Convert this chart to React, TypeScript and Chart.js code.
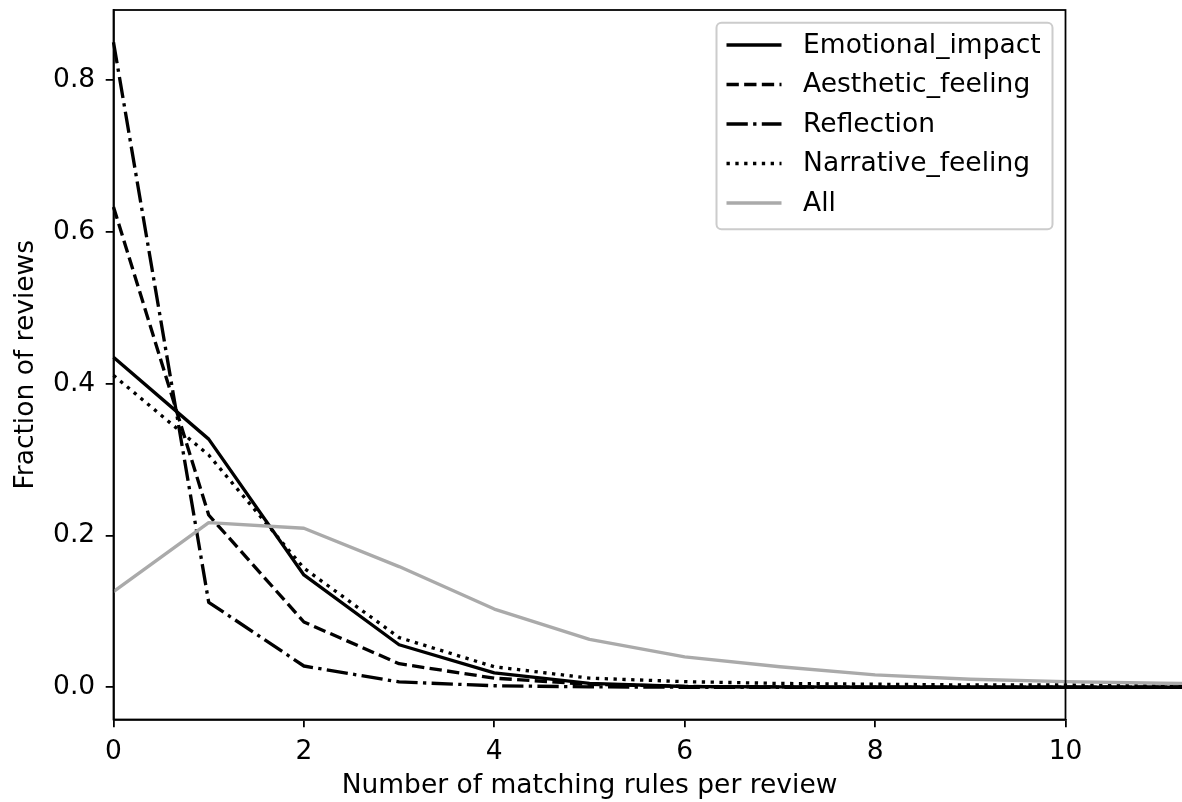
import { useEffect, useRef } from "react";
import { Chart, registerables } from "chart.js";

Chart.register(...registerables);

const X_VALUES = [0, 1, 2, 3, 4, 5, 6, 7, 8, 9, 10, 11, 12];
const EMOTIONAL = [0.435, 0.327, 0.148, 0.056, 0.019, 0.005, 0.001, 0.0005, 0, 0, 0, 0, 0];
const AESTHETIC = [0.633, 0.227, 0.086, 0.031, 0.012, 0.004, 0.001, 0.0005, 0, 0, 0, 0, 0];
const REFLECTION = [0.85, 0.112, 0.028, 0.007, 0.002, 0.0005, 0, 0, 0, 0, 0, 0, 0];
const NARRATIVE = [0.411, 0.306, 0.157, 0.0655, 0.027, 0.012, 0.0074, 0.005, 0.004, 0.003, 0.003, 0.002, 0.002];
const ALL = [0.126, 0.217, 0.2095, 0.159, 0.103, 0.063, 0.04, 0.027, 0.0162, 0.0105, 0.0074, 0.0053, 0.004];
const SERIES_NAMES = ["Emotional_impact", "Aesthetic_feeling", "Reflection", "Narrative_feeling", "All"];
const X_TICKS = [0, 2, 4, 6, 8, 10];
const Y_TICKS = [0, 0.2, 0.4, 0.6, 0.8];
const X_TITLE = "Number of matching rules per review";
const Y_TITLE = "Fraction of reviews";

const FONT = "DejaVu Sans";
const FS = 26.5;
const LW = 3.33;
const AX_LW = 1.78;

const framePlugin = {
  id: "frameAndLegend",
  afterDraw(chart: any) {
    const { ctx, chartArea: a } = chart;
    ctx.save();
    ctx.strokeStyle = "#000";
    ctx.lineWidth = AX_LW;
    ctx.setLineDash([]);
    ctx.strokeRect(a.left, a.top, a.right - a.left, a.bottom - a.top);

    // legend
    const bx = a.right - 349;
    const by = a.top + 12.7;
    const bw = 336;
    const bh = 206.6;
    ctx.beginPath();
    ctx.roundRect(bx, by, bw, bh, 5);
    ctx.fillStyle = "rgba(255,255,255,0.8)";
    ctx.fill();
    ctx.strokeStyle = "#cccccc";
    ctx.lineWidth = 2;
    ctx.stroke();

    ctx.font = `${FS}px "${FONT}"`;
    ctx.textBaseline = "middle";
    ctx.textAlign = "left";
    chart.data.datasets.forEach((ds: any, i: number) => {
      const y = by + 22.3 + i * 39.5;
      ctx.beginPath();
      ctx.strokeStyle = ds.borderColor;
      ctx.lineWidth = ds.borderWidth;
      ctx.setLineDash(ds.borderDash || []);
      ctx.lineCap = "butt";
      ctx.moveTo(bx + 10, y);
      ctx.lineTo(bx + 65, y);
      ctx.stroke();
      ctx.setLineDash([]);
      ctx.fillStyle = "#000";
      ctx.fillText(ds.label, bx + 86.6, y + 1);
    });
    ctx.restore();
  },
};

export default function App() {
  const ref = useRef<HTMLCanvasElement | null>(null);

  useEffect(() => {
    if (!ref.current) return;
    const mk = (vals: number[]) => X_VALUES.map((x, i) => ({ x, y: vals[i] }));
    const styles = [
      { color: "#000000", dash: [] as number[] },
      { color: "#000000", dash: [12.33, 5.33] },
      { color: "#000000", dash: [21.3, 5.33, 3.33, 5.33] },
      { color: "#000000", dash: [3.33, 5.5] },
      { color: "#aaaaaa", dash: [] as number[] },
    ];
    const series = [EMOTIONAL, AESTHETIC, REFLECTION, NARRATIVE, ALL];
    const datasets = series.map((vals, i) => ({
      label: SERIES_NAMES[i],
      data: mk(vals),
      borderColor: styles[i].color,
      borderDash: styles[i].dash,
      borderWidth: LW,
      borderJoinStyle: "round" as const,
      pointRadius: 0,
      pointHoverRadius: 0,
      fill: false,
      tension: 0,
      clip: false as any,
      order: series.length - i,
    }));

    const tickFont = { family: FONT, size: FS };
    const chart = new Chart(ref.current, {
      type: "line",
      data: { datasets },
      options: {
        responsive: false,
        animation: false,
        devicePixelRatio: 1,
        layout: { padding: { left: 0, top: 10, right: 116.5, bottom: 0 } },
        plugins: { legend: { display: false }, tooltip: { enabled: false } },
        scales: {
          x: {
            type: "linear",
            bounds: "data",
            afterDataLimits: (s: any) => {
              s.min = 0;
              s.max = 10;
            },
            afterBuildTicks: (s: any) => {
              s.ticks = X_TICKS.map((v) => ({ value: v }));
            },
            afterFit: (s: any) => {
              s.height = 82.5;
            },
            grid: {
              drawOnChartArea: false,
              drawTicks: true,
              tickLength: 7.8,
              tickWidth: AX_LW,
              tickColor: "#000",
              color: "#000",
              lineWidth: AX_LW,
            },
            border: { display: true, color: "#000", width: AX_LW },
            ticks: {
              color: "#000",
              font: tickFont,
              padding: 8.5,
              autoSkip: false,
              maxRotation: 0,
              callback: (v: any) => String(v),
            },
            title: {
              display: true,
              text: X_TITLE,
              color: "#000",
              font: tickFont,
              padding: { top: 0, bottom: 0 },
            },
          },
          y: {
            type: "linear",
            bounds: "data",
            afterDataLimits: (s: any) => {
              s.min = -0.0425;
              s.max = 0.8925;
            },
            afterBuildTicks: (s: any) => {
              s.ticks = Y_TICKS.map((v) => ({ value: v }));
            },
            afterFit: (s: any) => {
              s.width = 113.5;
              s.paddingTop = 0;
              s.paddingBottom = 0;
            },
            grid: {
              drawOnChartArea: false,
              drawTicks: true,
              tickLength: 7.8,
              tickWidth: AX_LW,
              tickColor: "#000",
              color: "#000",
              lineWidth: AX_LW,
            },
            border: { display: true, color: "#000", width: AX_LW },
            ticks: {
              color: "#000",
              font: tickFont,
              padding: 10.5,
              autoSkip: false,
              callback: (v: any) => Number(v).toFixed(1),
            },
            title: {
              display: true,
              text: Y_TITLE,
              color: "#000",
              font: tickFont,
              padding: { top: 10, bottom: 0 },
            },
          },
        },
      },
      plugins: [framePlugin],
    });
    return () => chart.destroy();
  }, []);

  return (
    <div style={{ position: "fixed", left: 0, top: 0, width: 1182, height: 802, background: "#fff" }}>
      <canvas ref={ref} width={1182} height={802} style={{ display: "block" }} />
    </div>
  );
}
